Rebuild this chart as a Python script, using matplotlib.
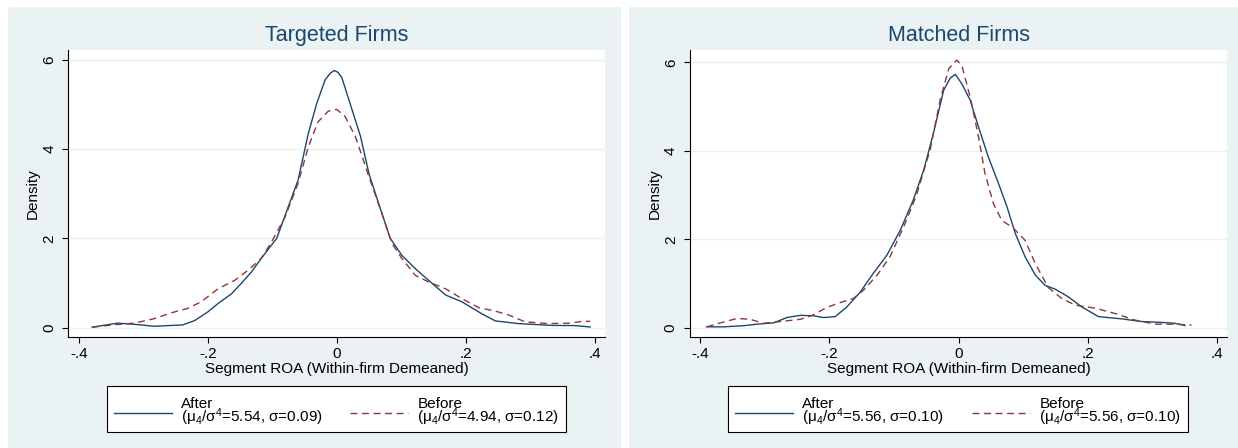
import matplotlib
matplotlib.use("Agg")
import matplotlib.pyplot as plt
from matplotlib.patches import Rectangle
from matplotlib.transforms import ScaledTranslation

plt.rcParams["font.family"] = ["Liberation Sans", "DejaVu Sans"]
plt.rcParams["mathtext.default"] = "regular"

# Stata s2color-like palette
BG = "#EAF2F3"
NAVY = "#1A476F"
MAROON = "#90353B"

# --- data (kernel density estimates) ---
tgt_after_x = [-0.379, -0.340, -0.314, -0.283, -0.262, -0.239, -0.220, -0.200, -0.184, -0.163,
               -0.148, -0.132, -0.117, -0.093, -0.075, -0.060, -0.044, -0.031, -0.018, -0.010,
               -0.004, 0.002, 0.008, 0.019, 0.037, 0.050, 0.065, 0.083, 0.101, 0.122,
               0.148, 0.169, 0.194, 0.225, 0.246, 0.282, 0.334, 0.370, 0.393]
tgt_after_y = [0.01, 0.10, 0.075, 0.03, 0.045, 0.06, 0.16, 0.35, 0.54, 0.76,
               0.99, 1.25, 1.55, 2.0, 2.71, 3.30, 4.35, 5.02, 5.55, 5.70,
               5.76, 5.72, 5.60, 5.10, 4.28, 3.45, 2.78, 2.0, 1.62, 1.32,
               0.99, 0.73, 0.58, 0.31, 0.15, 0.09, 0.05, 0.045, 0.015]

tgt_before_x = [-0.379, -0.340, -0.314, -0.283, -0.257, -0.231, -0.210, -0.184, -0.158, -0.137,
                -0.117, -0.101, -0.080, -0.060, -0.044, -0.029, -0.013, 0.0, 0.013, 0.029,
                0.050, 0.070, 0.086, 0.101, 0.122, 0.143, 0.169, 0.194, 0.220, 0.246,
                0.267, 0.292, 0.329, 0.360, 0.381, 0.393]
tgt_before_y = [0.01, 0.07, 0.10, 0.20, 0.33, 0.43, 0.58, 0.87, 1.06, 1.29,
                1.55, 1.92, 2.48, 3.23, 4.05, 4.61, 4.85, 4.89, 4.73, 4.28,
                3.38, 2.56, 1.88, 1.55, 1.17, 1.02, 0.87, 0.65, 0.45, 0.37,
                0.28, 0.13, 0.09, 0.10, 0.14, 0.14]

mat_after_x = [-0.390, -0.364, -0.333, -0.312, -0.286, -0.266, -0.245, -0.225, -0.209, -0.191,
               -0.173, -0.152, -0.132, -0.111, -0.090, -0.070, -0.054, -0.039, -0.023, -0.013,
               -0.005, 0.005, 0.018, 0.031, 0.046, 0.062, 0.075, 0.088, 0.103, 0.119,
               0.134, 0.150, 0.170, 0.191, 0.217, 0.253, 0.284, 0.315, 0.335, 0.351]
mat_after_y = [0.02, 0.02, 0.045, 0.08, 0.11, 0.23, 0.28, 0.27, 0.23, 0.25,
               0.47, 0.81, 1.23, 1.64, 2.21, 2.89, 3.56, 4.39, 5.37, 5.64,
               5.73, 5.52, 5.15, 4.54, 3.87, 3.26, 2.74, 2.13, 1.61, 1.19,
               0.96, 0.87, 0.70, 0.47, 0.25, 0.20, 0.14, 0.12, 0.10, 0.05]

mat_before_x = [-0.390, -0.369, -0.343, -0.323, -0.302, -0.276, -0.245, -0.225, -0.204, -0.183,
                -0.163, -0.147, -0.126, -0.106, -0.085, -0.065, -0.044, -0.028, -0.015, -0.003,
                0.005, 0.018, 0.031, 0.041, 0.054, 0.067, 0.085, 0.103, 0.119, 0.139,
                0.160, 0.181, 0.212, 0.243, 0.274, 0.305, 0.335, 0.361]
mat_before_y = [0.02, 0.11, 0.21, 0.19, 0.10, 0.14, 0.19, 0.29, 0.46, 0.57,
                0.66, 0.85, 1.19, 1.61, 2.28, 3.0, 4.02, 5.18, 5.86, 6.05,
                5.94, 5.22, 4.32, 3.49, 2.81, 2.43, 2.25, 1.98, 1.45, 0.91,
                0.66, 0.51, 0.44, 0.32, 0.17, 0.08, 0.08, 0.06]

titles = ["Targeted Firms", "Matched Firms"]
after_labels = ["After\n(μ$_4$/σ$^4$=5.54, σ=0.09)", "After\n(μ$_4$/σ$^4$=5.56, σ=0.10)"]
before_labels = ["Before\n(μ$_4$/σ$^4$=4.94, σ=0.12)", "Before\n(μ$_4$/σ$^4$=5.56, σ=0.10)"]
x_ticks = [-0.4, -0.2, 0, 0.2, 0.4]
x_ticklabels = ["-.4", "-.2", "0", ".2", ".4"]
y_ticks = [0, 2, 4, 6]

W, H = 1238, 448
fig = plt.figure(figsize=(W / 100, H / 100), dpi=100)

# panel backgrounds (pixel boxes converted to figure fractions)
for x0, x1 in [(8, 621), (629, 1238)]:
    fig.add_artist(Rectangle((x0 / W, 0), (x1 - x0) / W, (H - 7) / H,
                             transform=fig.transFigure, facecolor=BG,
                             edgecolor="none", zorder=-10))

axes_px = [(68.4, 605), (690, 1227)]
legend_px = [(106.7, 566), (728, 1188)]
ylims = [(-0.21, 6.22), (-0.21, 6.28)]
curves = [(tgt_after_x, tgt_after_y, tgt_before_x, tgt_before_y),
          (mat_after_x, mat_after_y, mat_before_x, mat_before_y)]

# nudge legend contents down a few pixels inside the frame
nudge = ScaledTranslation(0, -3.5 / 100, fig.dpi_scale_trans)

for i in range(2):
    l, r = axes_px[i]
    ax = fig.add_axes([l / W, (H - 337) / H, (r - l) / W, 287 / H])
    ax.set_facecolor("white")
    ax_x, ax_y, bx, by = curves[i]
    ax.plot(ax_x, ax_y, color=NAVY, lw=1.0, label=after_labels[i])
    ax.plot(bx, by, color=MAROON, lw=1.0, dashes=(5, 3.3), label=before_labels[i])

    ax.set_xlim(-0.416, 0.416)
    ax.set_ylim(*ylims[i])
    ax.set_xticks(x_ticks)
    ax.set_xticklabels(x_ticklabels)
    ax.set_yticks(y_ticks)
    ax.yaxis.grid(True, color=BG, lw=1.0)
    ax.set_axisbelow(True)
    for s in ["top", "right"]:
        ax.spines[s].set_visible(False)
    for s in ["left", "bottom"]:
        ax.spines[s].set_color("black")
        ax.spines[s].set_linewidth(0.8)
    ax.tick_params(axis="both", length=4.3, width=0.8, labelsize=11, color="black")
    ax.tick_params(axis="x", pad=3)
    ax.tick_params(axis="y", pad=4.5, labelrotation=90)
    for lab in ax.get_yticklabels():
        lab.set_va("center")

    ax.set_title(titles[i], color=NAVY, fontsize=15.5, pad=6.5)
    ax.set_xlabel("Segment ROA (Within-firm Demeaned)", fontsize=11)
    ax.xaxis.set_label_coords(0.5, -0.088)
    ax.set_ylabel("Density", fontsize=11)
    ax.yaxis.set_label_coords(-0.053, 0.5)

    lx0, lx1 = legend_px[i]
    leg = ax.legend(loc="center left", mode="expand", ncol=2,
                    bbox_to_anchor=(lx0 / W, (H - 430.7) / H, (lx1 - lx0) / W, 43.4 / H),
                    bbox_transform=fig.transFigure, borderaxespad=0,
                    fontsize=11, handlelength=3.8, handletextpad=0.6,
                    borderpad=0.45, fancybox=False, framealpha=1)
    leg.get_frame().set_edgecolor("black")
    leg.get_frame().set_linewidth(0.8)
    for t in leg.get_texts():
        t.set_linespacing(0.75)
        t.set_transform(t.get_transform() + nudge)
    for h in leg.legend_handles:
        h.set_transform(h.get_transform() + nudge)

fig.savefig("out.png", dpi=100, facecolor="white")
